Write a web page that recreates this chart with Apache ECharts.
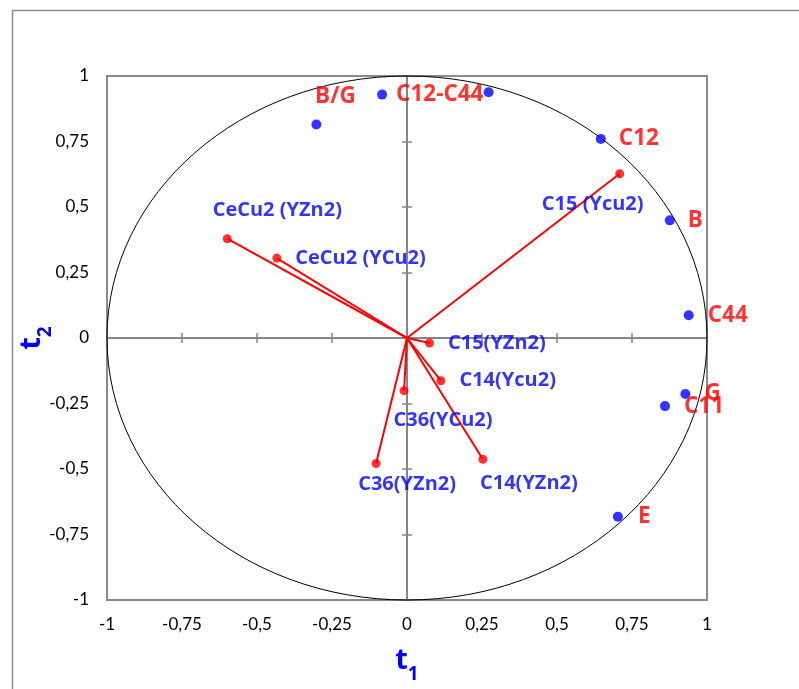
<!DOCTYPE html>
<html>
<head>
<meta charset="utf-8">
<script src="https://cdn.jsdelivr.net/npm/echarts@6/dist/echarts.min.js"></script>
<style>
html,body{margin:0;padding:0;background:#fff;}
#chart{width:799px;height:689px;}
</style>
</head>
<body>
<div id="chart"></div>
<script>
// ---- data ----
var tickValues = [-1, -0.75, -0.5, -0.25, 0, 0.25, 0.5, 0.75, 1];
var vectorNames = ['C15 (Ycu2)', 'CeCu2 (YZn2)', 'CeCu2 (YCu2)', 'C15(YZn2)', 'C14(Ycu2)', 'C36(YCu2)', 'C36(YZn2)', 'C14(YZn2)'];
var vectorT1 = [0.709, -0.599, -0.434, 0.075, 0.113, -0.010, -0.103, 0.253];
var vectorT2 = [0.627, 0.379, 0.305, -0.019, -0.163, -0.201, -0.479, -0.463];
var pointNames = ['B/G', 'C12-C44', '', 'C12', 'B', 'C44', 'G', 'C11', 'E'];
var pointT1 = [-0.302, -0.083, 0.272, 0.646, 0.876, 0.939, 0.928, 0.860, 0.703];
var pointT2 = [0.815, 0.929, 0.938, 0.760, 0.449, 0.087, -0.214, -0.260, -0.682];

// ---- label layout (style, not data) ----
var vectorLabelLayout = [
  {position: 'inside', offset: [-27, 31]},
  {position: 'inside', offset: [50, -28]},
  {position: 'right', distance: 14},
  {position: 'right', distance: 14},
  {position: 'right', distance: 14},
  {position: 'inside', offset: [39, 30]},
  {position: 'inside', offset: [31, 21]},
  {position: 'inside', offset: [46, 24]}
];
var pointLabelLayout = [
  {position: 'inside', offset: [19, -28]},
  {position: 'right', distance: 9},
  {position: 'right', distance: 9},
  {position: 'right', distance: 13},
  {position: 'right', distance: 13},
  {position: 'right', distance: 14},
  {position: 'right', distance: 14},
  {position: 'right', distance: 14},
  {position: 'right', distance: 15}
];

var FONT = 'Open Sans';
var TICKFONT = 'Lato';
var RED = '#FF0000', BLUE = '#0000FF', GRAY = '#868686';
var G = {left: 107, top: 76, width: 600, height: 524};

function fmt(v) { return String(v).replace('.', ','); }

function baseAxis(gridIndex) {
  return {
    type: 'value', gridIndex: gridIndex, min: -1, max: 1, interval: 0.25,
    splitLine: {show: false}
  };
}

var titleRich = function () {
  return {
    t: {fontSize: 29, fontWeight: 'bold', color: BLUE, fontFamily: FONT, verticalAlign: 'top', lineHeight: 30},
    s: {fontSize: 19, fontWeight: 'bold', color: BLUE, fontFamily: FONT, verticalAlign: 'bottom', lineHeight: 38}
  };
};

var xAxes = [], yAxes = [];
// axis 0: labels at the plot edges
var xa0 = baseAxis(0);
xa0.axisLine = {show: false, onZero: false};
xa0.axisTick = {show: false};
xa0.axisLabel = {show: true, margin: 16, color: '#000', fontSize: 17, fontFamily: TICKFONT, formatter: fmt, showMinLabel: true, showMaxLabel: true};
xa0.name = '{t|t}{s|1}';
xa0.nameLocation = 'middle';
xa0.nameGap = 46;
xa0.nameMoveOverlap = false;
xa0.nameTextStyle = {rich: titleRich()};
var ya0 = baseAxis(0);
ya0.axisLine = {show: false, onZero: false};
ya0.axisTick = {show: false};
ya0.axisLabel = {show: true, margin: 18, color: '#000', fontSize: 17, fontFamily: TICKFONT, formatter: fmt, showMinLabel: true, showMaxLabel: true};
ya0.name = '{t|t}{s|2}';
ya0.nameLocation = 'middle';
ya0.nameGap = 52;
ya0.nameRotate = 90;
ya0.nameMoveOverlap = false;
ya0.nameTextStyle = {rich: titleRich()};
xAxes.push(xa0); yAxes.push(ya0);

// axes 1 & 2: zero-crossing lines with ticks on both sides
[1, 2].forEach(function (gi) {
  var xa = baseAxis(gi), ya = baseAxis(gi);
  [xa, ya].forEach(function (a) {
    a.axisLine = {show: true, onZero: true, lineStyle: {color: GRAY, width: 2}};
    a.axisTick = {show: true, inside: gi === 2, length: 5, lineStyle: {color: GRAY, width: 1.5}};
    a.axisLabel = {show: false};
  });
  xAxes.push(xa); yAxes.push(ya);
});

var series = [];
vectorNames.forEach(function (n, i) {
  series.push({
    type: 'line', xAxisIndex: 0, yAxisIndex: 0, silent: true,
    data: [[0, 0], [vectorT1[i], vectorT2[i]]],
    showSymbol: false, symbol: 'none',
    lineStyle: {color: RED, width: 2}, z: 3
  });
});
series.push({
  type: 'scatter', xAxisIndex: 0, yAxisIndex: 0, symbolSize: 9, z: 4,
  itemStyle: {color: RED},
  data: vectorNames.map(function (n, i) {
    var L = vectorLabelLayout[i];
    return {name: n, value: [vectorT1[i], vectorT2[i]], label: Object.assign({}, L)};
  }),
  label: {show: true, formatter: '{b}', color: BLUE, fontSize: 20, fontWeight: 'bold', fontFamily: FONT}
});
series.push({
  type: 'scatter', xAxisIndex: 0, yAxisIndex: 0, symbolSize: 10, z: 4,
  itemStyle: {color: BLUE},
  data: pointNames.map(function (n, i) {
    var L = pointLabelLayout[i];
    return {name: n, value: [pointT1[i], pointT2[i]], label: Object.assign({}, L)};
  }),
  label: {show: true, formatter: '{b}', color: RED, fontSize: 22.5, fontWeight: 'bold', fontFamily: FONT}
});

var chart = echarts.init(document.getElementById('chart'), null, {renderer: 'canvas'});
chart.setOption({
  animation: false,
  backgroundColor: '#fff',
  grid: [
    Object.assign({show: true, borderColor: '#8a8a8a', borderWidth: 2, backgroundColor: 'transparent'}, G),
    Object.assign({show: false}, G),
    Object.assign({show: false}, G)
  ],
  xAxis: xAxes,
  yAxis: yAxes,
  series: series
});

// unit correlation circle, placed through the axes' own scales
var c = chart.convertToPixel({xAxisIndex: 0, yAxisIndex: 0}, [0, 0]);
var px = chart.convertToPixel({xAxisIndex: 0, yAxisIndex: 0}, [1, 1]);
chart.setOption({
  graphic: [
    {type: 'rect', id: 'frame', left: 10, top: 8, z: -1, silent: true,
      shape: {width: 820, height: 680},
      style: {fill: 'none', stroke: '#8c8c8c', lineWidth: 1.5}},
    {type: 'ellipse', id: 'circle', z: 1, silent: true,
      shape: {cx: c[0], cy: c[1], rx: px[0] - c[0], ry: c[1] - px[1]},
      style: {fill: 'none', stroke: '#000', lineWidth: 1}}
  ]
});
</script>
</body>
</html>
